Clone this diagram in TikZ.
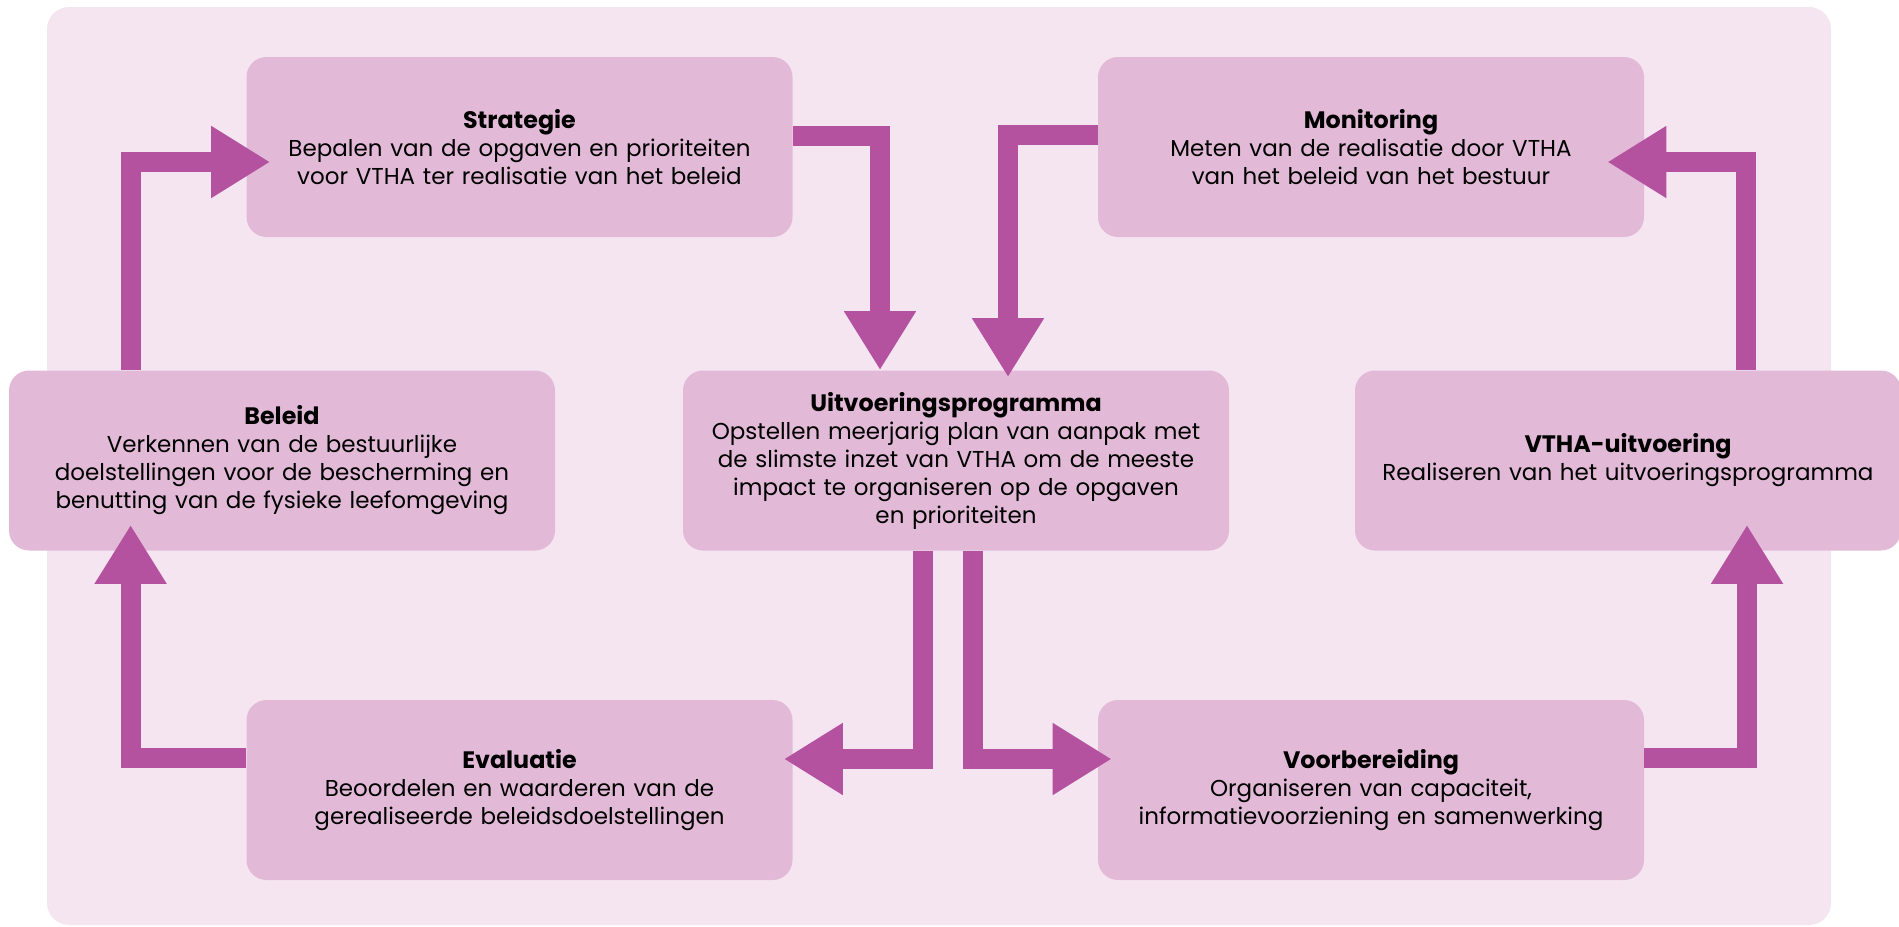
\documentclass[tikz,border=0pt]{standalone}
\usepackage{fontspec}
\setmainfont{Poppins}
\usepackage{tikz}
\usetikzlibrary{arrows.meta,calc}
\definecolor{achter}{RGB}{245,229,240}
\definecolor{blokkleur}{RGB}{226,186,215}
\definecolor{pijlkleur}{RGB}{180,82,160}
\newcommand{\kop}[1]{{\fontsize{11.9pt}{14pt}\selectfont\bfseries #1}}
\tikzstyle{blok}=[rounded corners=10pt,fill=blokkleur,minimum width=273pt,minimum height=90pt,inner sep=0pt,text width=266pt,align=center,font=\fontsize{11.5pt}{14pt}\selectfont]
\tikzstyle{pijl}=[draw=pijlkleur,line width=10pt,line join=miter,-{Triangle[width=34pt,length=29.5pt]}]

\begin{document}
\begin{tikzpicture}[x=0.5pt,y=-0.5pt]
      \useasboundingbox (0,0) rectangle (1899,926);
      \fill[achter,rounded corners=11pt] (47,7) rectangle (1831,925);

      \node[blok] (strategie) at (519.5,147) {\kop{Strategie}\\Bepalen van de opgaven en prioriteiten\\voor VTHA ter realisatie van het beleid};
      \node[blok] (monitoring) at (1371,147) {\kop{Monitoring}\\Meten van de realisatie door VTHA\\van het beleid van het bestuur};
      \node[blok] (beleid) at (282,460.5) {\kop{Beleid}\\Verkennen van de bestuurlijke\\doelstellingen voor de bescherming en\\benutting van de fysieke leefomgeving};
      \node[blok] (uitv) at (956,460.5) {\kop{Uitvoeringsprogramma}\\Opstellen meerjarig plan van aanpak met\\de slimste inzet van VTHA om de meeste\\impact te organiseren op de opgaven\\en prioriteiten};
      \node[blok] (vtha) at (1628,460.5) {\kop{VTHA-uitvoering}\\Realiseren van het uitvoeringsprogramma};
      \node[blok] (evaluatie) at (519.5,790) {\kop{Evaluatie}\\Beoordelen en waarderen van de\\gerealiseerde beleidsdoelstellingen};
      \node[blok] (voorb) at (1371,790) {\kop{Voorbereiding}\\Organiseren van capaciteit,\\informatievoorziening en samenwerking};

      \draw[pijl] ($(beleid.north west)+(122,0)$) |- ($(strategie.west)+(24,15)$);
      \draw[pijl] ($(strategie.east)+(0,-11)$) -| ($(uitv.north)+(-76,0)$);
      \draw[pijl] ($(monitoring.west)+(0,-12)$) -| ($(uitv.north)+(52,7)$);
      \draw[pijl] ($(vtha.north)+(118,0)$) |- ($(monitoring.east)+(-37,15)$);
      \draw[pijl] ($(uitv.south)+(-33,0)$) |- ($(evaluatie.east)+(-9,-31)$);
      \draw[pijl] ($(uitv.south)+(17,0)$) |- ($(voorb.west)+(14,-31)$);
      \draw[pijl] ($(voorb.east)+(0,-32)$) -| ($(vtha.south)+(119,-26)$);
      \draw[pijl] ($(evaluatie.west)+(0,-32)$) -| ($(beleid.south west)+(122,-26)$);
    \end{tikzpicture}
\end{document}
